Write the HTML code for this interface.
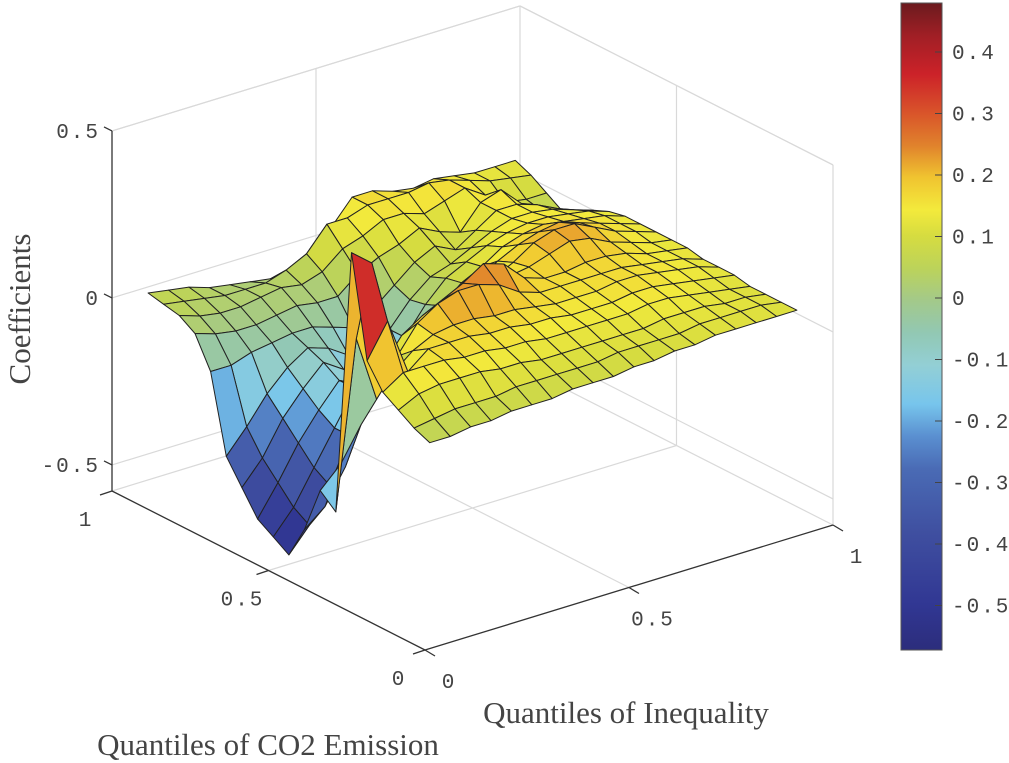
<!DOCTYPE html>
<html><head><meta charset="utf-8"><style>
html,body{margin:0;padding:0;background:#fff;}
svg{display:block;}
.tk{font-family:"Liberation Mono",monospace;font-size:21px;fill:#444;letter-spacing:2px;}
.lb{font-family:"Liberation Serif",serif;font-size:31px;fill:#444;}
</style></head><body>
<svg id="chart" width="1009" height="763" viewBox="0 0 1009 763">
<defs>
<linearGradient id="cbar" x1="0" y1="1" x2="0" y2="0">
<stop offset="0" stop-color="#2c2d7c"/><stop offset="0.07" stop-color="#313793"/><stop offset="0.18" stop-color="#3f4fa0"/><stop offset="0.28" stop-color="#4a6bb5"/><stop offset="0.33" stop-color="#5a8fd0"/><stop offset="0.38" stop-color="#77c5ec"/><stop offset="0.44" stop-color="#93cfd5"/><stop offset="0.49" stop-color="#92c8b3"/><stop offset="0.54" stop-color="#a3c98a"/><stop offset="0.59" stop-color="#bcd35a"/><stop offset="0.64" stop-color="#d6dc40"/><stop offset="0.68" stop-color="#f3ea3c"/><stop offset="0.73" stop-color="#f0c430"/><stop offset="0.78" stop-color="#e0822c"/><stop offset="0.83" stop-color="#d9542a"/><stop offset="0.89" stop-color="#cc2229"/><stop offset="0.95" stop-color="#a01f25"/><stop offset="1" stop-color="#6b1a1e"/>
</linearGradient>
</defs>
<g id="grid"></g>
<g id="surf"></g>
<g id="axes"></g>
<g>
<rect x="901" y="3" width="41" height="647" fill="url(#cbar)" stroke="#555" stroke-width="1"/>
<g id="cbticks"></g>
</g>
<text class="lb" transform="translate(30,309) rotate(-90)" text-anchor="middle">Coefficients</text>
<text class="lb" x="626" y="723" text-anchor="middle">Quantiles of Inequality</text>
<text class="lb" x="268" y="755" text-anchor="middle">Quantiles of CO2 Emission</text>
</svg>
<script>
const xiQuantiles=[0.05,0.10,0.15,0.20,0.25,0.30,0.35,0.40,0.45,0.50,0.55,0.60,0.65,0.70,0.75,0.80,0.85,0.90,0.95];
const co2Quantiles=[0.05,0.10,0.15,0.20,0.25,0.30,0.35,0.40,0.45,0.50,0.55,0.60,0.65,0.70,0.75,0.80,0.85,0.90,0.95];
const coefRows=[
[0.00,0.00,0.01,0.01,0.02,0.02,0.02,0.03,0.03,0.03,0.04,0.04,0.05,0.05,0.06,0.06,0.06,0.06,0.06],
[0.02,0.03,0.04,0.04,0.04,0.05,0.05,0.05,0.05,0.05,0.06,0.06,0.06,0.06,0.07,0.07,0.07,0.07,0.06],
[0.05,0.08,0.09,0.09,0.09,0.08,0.08,0.07,0.07,0.07,0.07,0.07,0.07,0.08,0.08,0.08,0.07,0.07,0.06],
[0.08,0.12,0.12,0.12,0.11,0.11,0.10,0.10,0.09,0.09,0.09,0.09,0.09,0.10,0.10,0.09,0.08,0.07,0.06],
[0.15,0.25,0.08,0.13,0.13,0.13,0.12,0.12,0.11,0.11,0.10,0.10,0.10,0.11,0.11,0.10,0.09,0.08,0.07],
[0.45,0.40,0.05,0.10,0.13,0.14,0.14,0.13,0.13,0.12,0.11,0.11,0.11,0.12,0.12,0.11,0.10,0.09,0.07],
[-0.35,0.15,-0.05,0.06,0.14,0.18,0.20,0.20,0.18,0.14,0.12,0.12,0.12,0.12,0.12,0.11,0.10,0.09,0.07],
[-0.31,-0.25,-0.15,0.00,0.08,0.12,0.15,0.18,0.22,0.20,0.14,0.12,0.12,0.13,0.13,0.12,0.10,0.09,0.08],
[-0.45,-0.40,-0.30,-0.15,-0.05,0.00,0.03,0.06,0.08,0.10,0.12,0.13,0.15,0.17,0.16,0.13,0.11,0.09,0.08],
[-0.55,-0.48,-0.38,-0.25,-0.12,-0.08,-0.08,-0.04,0.02,0.06,0.09,0.12,0.16,0.18,0.18,0.15,0.12,0.10,0.08],
[-0.52,-0.45,-0.35,-0.25,-0.15,-0.14,-0.14,-0.10,-0.04,0.02,0.06,0.10,0.13,0.15,0.16,0.14,0.12,0.10,0.08],
[-0.49,-0.40,-0.30,-0.22,-0.15,-0.18,-0.20,-0.18,-0.10,-0.02,0.03,0.06,0.10,0.12,0.13,0.12,0.11,0.10,0.08],
[-0.42,-0.35,-0.25,-0.18,-0.12,-0.16,-0.22,-0.20,-0.12,-0.04,0.02,0.05,0.08,0.10,0.11,0.11,0.10,0.09,0.07],
[-0.35,-0.28,-0.20,-0.14,-0.10,-0.12,-0.16,-0.20,-0.12,-0.05,0.00,0.02,0.05,0.08,0.10,0.10,0.09,0.07,0.05],
[-0.12,-0.12,-0.10,-0.09,-0.08,-0.08,-0.10,-0.12,-0.08,-0.03,0.02,0.05,0.02,0.06,0.10,0.10,0.08,0.05,0.02],
[-0.03,-0.05,-0.06,-0.06,-0.05,-0.04,-0.05,-0.05,0.00,0.03,0.05,0.08,0.05,0.03,0.10,0.12,0.06,0.02,0.00],
[0.00,-0.02,-0.03,-0.03,-0.02,-0.01,-0.02,0.00,0.05,0.07,0.10,0.10,0.08,0.10,0.12,0.08,0.04,0.03,0.03],
[0.01,0.00,-0.01,-0.02,-0.02,-0.02,0.00,0.03,0.10,0.10,0.12,0.12,0.12,0.13,0.12,0.10,0.08,0.07,0.06],
[0.02,0.01,0.00,-0.02,-0.03,-0.04,-0.05,-0.06,-0.08,0.05,0.12,0.12,0.10,0.09,0.10,0.09,0.08,0.08,0.08]
];
const zTicks=[-0.5,0,0.5];
const zTickLabels=["-0.5","0","0.5"];
const xiTicks=[0,0.5,1];
const xiTickLabels=["0","0.5","1"];
const co2Ticks=[0,0.5,1];
const co2TickLabels=["0","0.5","1"];
const cbTicks=[0.4,0.3,0.2,0.1,0,-0.1,-0.2,-0.3,-0.4,-0.5];
const cbTickLabels=["0.4","0.3","0.2","0.1","0","-0.1","-0.2","-0.3","-0.4","-0.5"];

const NS='http://www.w3.org/2000/svg';
const ZMIN=-0.578, ZMAX=0.5, ZS=334;
function P(xi,yc,z){return [425+408*xi-313*yc, 650-125*xi-159*yc-(z-ZMIN)*ZS];}
const cbStops=[[-0.568,[44,45,124]],[-0.5,[49,55,147]],[-0.4,[63,79,160]],[-0.3,[74,107,181]],[-0.25,[90,143,208]],[-0.2,[119,197,236]],[-0.15,[147,207,213]],[-0.1,[146,200,179]],[-0.05,[163,201,138]],[0,[188,211,90]],[0.05,[214,220,64]],[0.1,[243,234,60]],[0.15,[240,196,48]],[0.2,[224,130,44]],[0.25,[217,84,42]],[0.33,[204,34,41]],[0.4,[160,31,37]],[0.485,[107,26,30]]];
function cmap(v){
  if(v<=cbStops[0][0])return 'rgb('+cbStops[0][1]+')';
  for(let k=1;k<cbStops.length;k++){
    if(v<=cbStops[k][0]){const a=cbStops[k-1],b=cbStops[k];const t=(v-a[0])/(b[0]-a[0]);
      return 'rgb('+a[1].map((c,m)=>Math.round(c+(b[1][m]-c)*t)).join(',')+')';}
  }
  return 'rgb('+cbStops[cbStops.length-1][1]+')';
}
function line(g,a,b,stroke,w,name){
  const l=document.createElementNS(NS,'line');
  l.setAttribute('x1',a[0]);l.setAttribute('y1',a[1]);l.setAttribute('x2',b[0]);l.setAttribute('y2',b[1]);
  l.setAttribute('stroke',stroke);l.setAttribute('stroke-width',w);
  
  
  g.appendChild(l);
}
function text(g,x,y,s,cls,anchor,name){
  const t=document.createElementNS(NS,'text');
  t.setAttribute('x',x);t.setAttribute('y',y);t.setAttribute('class',cls);t.setAttribute('text-anchor',anchor);
  t.textContent=s;
  
  
  g.appendChild(t);
}
const grid=document.getElementById('grid');
const gc='#d9d9d9';
zTicks.concat([ZMAX]).forEach(z=>{
  line(grid,P(0,1,z),P(1,1,z),gc,1.2,'back-wall-gridline');
  line(grid,P(1,1,z),P(1,0,z),gc,1.2,'side-wall-gridline');
});
[0.5].forEach(v=>{
  line(grid,P(v,1,ZMIN),P(v,1,ZMAX),gc,1.2,'back-wall-vgridline');
  line(grid,P(1,v,ZMIN),P(1,v,ZMAX),gc,1.2,'side-wall-vgridline');
  line(grid,P(v,0,ZMIN),P(v,1,ZMIN),gc,1.2,'floor-gridline');
  line(grid,P(0,v,ZMIN),P(1,v,ZMIN),gc,1.2,'floor-gridline');
});
line(grid,P(1,1,ZMIN),P(1,1,ZMAX),gc,1.2,'back-corner-edge');
line(grid,P(1,0,ZMIN),P(1,0,ZMAX),gc,1.2,'right-corner-edge');
line(grid,P(0,1,ZMIN),P(1,1,ZMIN),gc,1.2,'floor-back-edge');
line(grid,P(1,1,ZMIN),P(1,0,ZMIN),gc,1.2,'floor-side-edge');
const surf=document.getElementById('surf');
const faces=[];
for(let j=0;j<co2Quantiles.length-1;j++){
  for(let i=0;i<xiQuantiles.length-1;i++){
    const x0=xiQuantiles[i],x1=xiQuantiles[i+1],y0=co2Quantiles[j],y1=co2Quantiles[j+1];
    const z00=coefRows[j][i],z10=coefRows[j][i+1],z11=coefRows[j+1][i+1],z01=coefRows[j+1][i];
    const pts=[P(x0,y0,z00),P(x1,y0,z10),P(x1,y1,z11),P(x0,y1,z01)];
    const depth=125*(x0+x1)+159*(y0+y1);
    faces.push({pts,depth,v:(z00+z10+z11+z01)/4});
  }
}
faces.sort((a,b)=>b.depth-a.depth);
faces.forEach(f=>{
  const p=document.createElementNS(NS,'polygon');
  p.setAttribute('points',f.pts.map(q=>q[0].toFixed(1)+','+q[1].toFixed(1)).join(' '));
  p.setAttribute('fill',cmap(f.v));
  p.setAttribute('stroke','#222');
  p.setAttribute('stroke-width','1');
  p.setAttribute('stroke-linejoin','round');
  
  
  surf.appendChild(p);
});
const axes=document.getElementById('axes');
const ac='#333';
line(axes,P(0,1,ZMIN),P(0,1,ZMAX),ac,1.3,'z-axis-line');
line(axes,P(0,0,ZMIN),P(1,0,ZMIN),ac,1.3,'x-axis-line');
line(axes,P(0,0,ZMIN),P(0,1,ZMIN),ac,1.3,'y-axis-line');
zTicks.forEach((z,k)=>{
  const p=P(0,1,z);
  line(axes,p,[p[0]-8,p[1]-4],ac,1.3,'z-tick');
  text(axes,p[0]-12,p[1]+7,zTickLabels[k],'tk','end','z-tick-label');
});
xiTicks.forEach((v,k)=>{
  const p=P(v,0,ZMIN);
  line(axes,p,[p[0]+10,p[1]+6],ac,1.3,'x-tick');
  text(axes,p[0]+24,p[1]+38,xiTickLabels[k],'tk','middle','x-tick-label');
});
co2Ticks.forEach((v,k)=>{
  const p=P(0,v,ZMIN);
  line(axes,p,[p[0]-12,p[1]+4],ac,1.3,'y-tick');
  text(axes,p[0]-26,p[1]+35,co2TickLabels[k],'tk','middle','y-tick-label');
});
const cbg=document.getElementById('cbticks');
function cbY(v){return 298-v*615;}
cbTicks.forEach((v,k)=>{
  const y=cbY(v);
  line(cbg,[935,y],[942,y],'#444',1,'colorbar-tick');
  text(cbg,952,y+7,cbTickLabels[k],'tk','start','colorbar-tick-label');
});
</script>
</body></html>
